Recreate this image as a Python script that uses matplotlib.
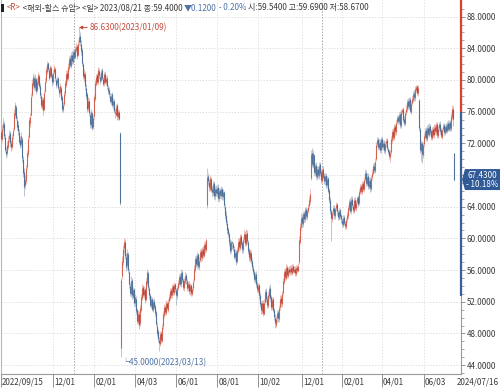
import numpy as np
import matplotlib
matplotlib.use('Agg')
import matplotlib.pyplot as plt
from matplotlib.patches import Polygon, Rectangle
from matplotlib.transforms import blended_transform_factory

plt.rcParams['font.family'] = ['Noto Sans CJK KR', 'DejaVu Sans']

# daily candles, 2022/09/15 .. 2024/07/16 (trading days)
opens = [
    73.4, 72.6, 73.9, 74.4, 72.8, 71.0, 70.8, 71.6, 72.6, 73.3,
    72.1, 71.6, 72.9, 73.8, 75.6, 76.6, 75.0, 74.3, 73.4, 72.4,
    71.9, 72.6, 70.0, 68.4, 66.8, 67.2, 69.0, 70.6, 72.8, 74.6,
    75.6, 78.1, 79.4, 80.2, 79.0, 80.1, 78.8, 79.6, 80.5, 79.2,
    78.0, 76.6, 77.6, 76.4, 78.6, 79.9, 81.0, 82.1, 81.2, 80.5,
    81.5, 80.6, 79.8, 81.0, 81.4, 80.0, 79.6, 80.2, 78.9, 78.5,
    79.0, 77.8, 76.2, 77.0, 78.3, 79.4, 80.9, 80.3, 81.5, 82.8,
    81.8, 83.2, 82.3, 83.6, 82.9, 83.8, 84.3, 83.2, 84.8, 85.6,
    84.6, 83.8, 82.0, 80.2, 80.8, 79.0, 78.2, 76.5, 77.4, 75.6,
    74.3, 75.8, 74.1, 75.4, 77.6, 79.5, 80.6, 79.7, 81.1, 80.4,
    80.0, 81.2, 80.1, 79.6, 80.8, 79.7, 80.3, 79.0, 78.8, 78.0,
    77.2, 78.2, 76.8, 77.4, 76.0, 75.6, 76.8, 75.3, 76.0, 73.3,
    46.2, 55.3, 57.0, 58.8, 59.6, 57.6, 56.6, 58.0, 55.8, 54.0,
    53.0, 54.8, 52.6, 53.6, 51.8, 52.4, 50.9, 49.5, 50.5, 49.3,
    51.0, 52.5, 53.9, 52.8, 53.6, 52.4, 54.4, 55.6, 53.8, 52.9,
    51.5, 52.4, 51.0, 52.1, 51.5, 50.7, 49.0, 48.3, 47.2, 46.7,
    48.0, 47.1, 48.9, 50.3, 51.4, 50.6, 51.9, 51.0, 52.1, 52.5,
    53.5, 52.8, 54.0, 53.1, 54.2, 53.5, 52.7, 53.8, 54.3, 55.2,
    54.2, 55.7, 54.7, 53.8, 54.5, 55.4, 54.6, 53.7, 54.3, 53.3,
    54.1, 53.0, 53.7, 54.8, 56.0, 57.5, 56.7, 58.0, 56.4, 57.3,
    58.4, 57.5, 58.6, 57.8, 59.3, 58.5, 64.2, 67.9, 67.1, 66.3,
    67.5, 66.2, 65.7, 67.0, 65.3, 66.3, 65.6, 66.5, 65.0, 66.1,
    65.4, 66.3, 65.2, 65.8, 64.0, 63.0, 62.0, 61.2, 60.5, 59.6,
    58.5, 59.54, 59.3, 58.7, 57.6, 58.3, 57.2, 58.4, 59.7, 58.8,
    60.3, 59.4, 58.5, 59.9, 60.6, 59.3, 60.7, 59.5, 58.5, 57.4,
    58.2, 57.2, 56.3, 55.7, 54.8, 55.5, 54.3, 53.4, 54.1, 52.9,
    51.8, 50.8, 51.9, 50.5, 52.0, 53.3, 52.3, 51.5, 52.7, 53.8,
    52.6, 51.3, 52.3, 50.9, 50.0, 49.1, 49.9, 50.7, 49.8, 51.3,
    52.5, 51.7, 53.1, 54.5, 55.9, 55.0, 56.4, 55.3, 56.1, 55.7,
    56.3, 55.6, 56.5, 55.8, 56.2, 55.5, 56.4, 55.9, 57.0, 59.6,
    61.5, 62.7, 61.8, 63.2, 62.4, 63.7, 62.7, 63.5, 64.1, 64.7,
    67.6, 70.8, 69.2, 70.5, 68.3, 69.3, 67.8, 68.8, 67.9, 69.4,
    68.4, 67.3, 68.7, 67.9, 67.2, 68.0, 66.7, 67.6, 66.1, 64.8,
    63.4, 62.5, 63.3, 63.9, 62.8, 63.8, 64.3, 63.3, 62.6, 63.6,
    62.9, 62.3, 61.7, 62.7, 61.9, 61.5, 62.4, 62.8, 63.7, 64.7,
    63.4, 65.0, 64.1, 63.5, 64.9, 63.8, 64.6, 65.2, 64.5, 65.9,
    66.6, 65.9, 67.0, 66.2, 67.5, 68.3, 66.9, 67.9, 66.5, 67.4,
    66.3, 67.7, 68.2, 69.2, 68.5, 70.0, 71.9, 72.5, 71.4, 72.2,
    71.1, 72.6, 71.5, 72.1, 71.0, 72.0, 72.4, 71.3, 71.0, 70.3,
    70.9, 72.4, 73.5, 72.7, 74.2, 73.4, 74.7, 75.3, 74.7, 75.7,
    74.2, 76.0, 76.3, 75.1, 74.5, 75.9, 76.3, 77.3, 76.6, 77.6,
    76.0, 77.1, 77.5, 78.3, 77.7, 78.8, 79.2, 78.3, 77.5, 73.8,
    71.0, 72.1, 70.5, 71.9, 72.8, 73.7, 72.6, 74.0, 73.1, 74.2,
    73.5, 72.7, 73.8, 73.0, 74.1, 73.4, 74.4, 72.9, 73.9, 74.5,
    73.7, 72.8, 73.8, 74.3, 73.3, 74.2, 73.5, 74.6, 73.7, 74.7,
    73.8, 75.3, 76.4, 70.8,
]
highs = [
    74.0, 74.3, 75.2, 74.8, 73.2, 71.6, 72.3, 72.9, 73.7, 73.6,
    72.4, 73.2, 74.0, 76.3, 77.2, 76.9, 75.5, 74.8, 73.8, 72.9,
    73.4, 72.8, 70.4, 68.9, 68.0, 69.3, 71.2, 73.0, 75.3, 75.8,
    78.3, 80.1, 80.9, 80.6, 80.7, 80.4, 80.2, 81.0, 80.8, 79.6,
    78.4, 77.9, 77.8, 78.8, 80.2, 81.6, 82.4, 82.3, 81.5, 81.9,
    81.8, 80.9, 81.2, 81.9, 81.6, 80.3, 80.5, 80.4, 79.3, 79.6,
    79.3, 78.1, 77.2, 78.6, 80.0, 81.2, 81.3, 82.1, 83.0, 83.1,
    83.5, 83.6, 83.9, 83.9, 84.3, 84.7, 84.6, 85.0, 86.63, 86.0,
    85.0, 84.1, 82.3, 81.4, 81.1, 79.5, 78.5, 77.8, 77.7, 75.9,
    76.4, 76.1, 75.6, 78.2, 80.0, 80.8, 80.9, 81.7, 81.5, 80.7,
    81.4, 81.5, 80.4, 81.0, 81.1, 80.5, 80.6, 79.4, 79.1, 78.3,
    78.4, 78.5, 77.7, 77.6, 76.4, 77.0, 77.1, 76.3, 76.2, 73.4,
    55.0, 57.8, 59.2, 60.0, 59.9, 58.1, 58.6, 58.3, 56.2, 54.4,
    55.2, 55.0, 53.9, 53.8, 53.0, 52.7, 51.2, 50.9, 50.8, 51.6,
    53.0, 54.3, 54.1, 54.0, 53.8, 55.0, 56.2, 55.9, 54.0, 53.1,
    52.7, 52.6, 52.4, 52.5, 51.7, 50.9, 49.4, 48.6, 47.6, 48.3,
    48.3, 49.2, 50.8, 51.7, 51.6, 52.2, 52.1, 52.4, 53.0, 53.8,
    53.8, 54.3, 54.2, 54.5, 54.4, 53.8, 54.0, 54.8, 55.5, 55.6,
    56.2, 56.0, 55.0, 55.0, 55.7, 55.6, 54.9, 54.6, 54.6, 54.4,
    54.3, 53.9, 54.9, 56.6, 57.8, 57.9, 58.3, 58.2, 57.6, 58.7,
    58.8, 58.9, 59.1, 59.6, 59.7, 60.1, 68.9, 68.3, 67.5, 68.0,
    67.8, 66.6, 67.3, 67.3, 66.6, 66.7, 66.8, 66.9, 66.4, 66.4,
    66.6, 66.5, 66.2, 66.0, 64.3, 63.4, 62.3, 61.5, 60.8, 59.9,
    59.8, 59.69, 59.5, 59.0, 58.6, 58.5, 58.9, 60.0, 60.0, 60.6,
    60.6, 59.7, 60.2, 61.0, 60.9, 61.2, 61.0, 59.8, 58.8, 58.7,
    58.5, 57.5, 56.6, 56.0, 55.8, 55.9, 54.6, 54.4, 54.4, 53.2,
    52.1, 52.2, 52.2, 52.3, 53.6, 53.7, 52.7, 53.2, 54.0, 54.2,
    52.9, 52.6, 52.6, 51.2, 50.4, 50.2, 51.0, 51.0, 51.6, 52.8,
    52.9, 53.4, 55.0, 56.2, 56.3, 56.8, 56.7, 56.4, 56.5, 56.6,
    56.6, 56.8, 56.8, 56.5, 56.5, 56.7, 56.7, 56.9, 60.3, 61.9,
    63.2, 63.1, 63.5, 63.4, 64.0, 64.0, 63.8, 64.4, 65.3, 66.2,
    71.2, 71.4, 71.1, 70.7, 69.5, 69.6, 69.1, 69.2, 69.6, 69.6,
    68.8, 69.0, 69.1, 68.2, 68.3, 68.2, 67.9, 67.8, 66.4, 65.2,
    63.7, 63.5, 64.2, 64.2, 64.0, 64.6, 64.5, 63.6, 63.9, 63.8,
    63.1, 62.6, 62.9, 62.9, 62.2, 62.6, 63.3, 64.2, 65.0, 65.1,
    65.3, 65.3, 64.4, 65.2, 65.2, 64.9, 65.4, 65.5, 66.2, 66.9,
    66.9, 67.3, 67.3, 67.8, 68.7, 68.6, 68.2, 68.2, 67.7, 67.7,
    68.0, 68.8, 69.5, 69.6, 70.1, 72.2, 72.8, 72.8, 72.5, 72.5,
    72.8, 72.9, 72.4, 72.4, 72.3, 72.7, 72.7, 71.6, 71.3, 71.2,
    72.9, 73.8, 73.9, 74.5, 74.5, 75.0, 75.6, 75.6, 76.0, 76.1,
    76.3, 76.5, 76.6, 75.4, 76.1, 76.8, 77.6, 77.7, 77.9, 77.9,
    77.4, 78.0, 78.6, 78.7, 79.2, 79.4, 79.4, 79.4, 77.6, 74.1,
    72.4, 72.3, 72.2, 73.3, 74.0, 74.1, 74.3, 74.4, 74.6, 74.5,
    73.8, 74.1, 74.2, 74.4, 74.5, 74.7, 74.7, 74.2, 74.7, 74.8,
    73.9, 74.0, 74.6, 74.6, 74.5, 74.6, 74.8, 74.9, 74.9, 74.9,
    75.8, 76.9, 76.7, 70.8,
]
lows = [
    72.1, 72.2, 73.5, 72.6, 70.9, 70.1, 70.4, 71.3, 72.2, 71.6,
    71.0, 71.3, 72.6, 73.6, 75.2, 74.9, 73.7, 73.1, 71.9, 71.4,
    71.6, 69.7, 67.8, 65.4, 66.3, 66.9, 68.7, 70.3, 72.5, 74.1,
    75.4, 77.8, 79.0, 78.7, 78.6, 78.2, 78.5, 79.4, 79.0, 77.7,
    76.5, 76.2, 75.6, 76.1, 78.3, 79.6, 80.8, 81.1, 80.0, 80.2,
    80.2, 79.3, 79.5, 80.7, 79.9, 79.0, 79.2, 78.7, 77.9, 78.1,
    77.3, 76.0, 75.9, 76.7, 78.0, 79.1, 79.8, 80.0, 81.2, 81.6,
    81.5, 82.0, 82.0, 82.5, 82.6, 83.5, 82.7, 83.0, 84.4, 84.3,
    83.2, 81.8, 80.1, 79.8, 78.8, 77.6, 76.0, 76.1, 75.4, 74.0,
    74.0, 73.7, 73.8, 75.1, 77.3, 79.2, 79.5, 79.4, 80.2, 79.5,
    79.7, 80.0, 79.2, 79.3, 79.5, 79.4, 78.9, 78.2, 77.8, 77.1,
    76.9, 76.6, 76.4, 75.8, 75.2, 75.4, 75.0, 75.0, 74.9, 64.2,
    45.0, 54.9, 56.6, 58.2, 57.4, 55.9, 56.2, 55.6, 53.8, 52.7,
    52.6, 52.4, 52.3, 51.5, 51.4, 50.4, 49.2, 49.2, 48.6, 49.0,
    50.7, 52.2, 52.6, 52.5, 51.9, 52.1, 54.1, 53.5, 52.4, 51.3,
    51.2, 50.8, 50.7, 51.1, 50.2, 48.9, 47.7, 46.9, 45.8, 46.4,
    46.8, 46.9, 48.6, 50.0, 50.3, 50.3, 50.9, 50.7, 51.8, 52.2,
    52.5, 52.5, 52.9, 52.8, 53.2, 51.6, 52.4, 53.5, 54.0, 54.0,
    53.9, 54.5, 53.5, 53.4, 54.2, 54.3, 53.4, 53.3, 53.0, 52.9,
    52.7, 52.7, 53.4, 54.5, 55.7, 56.4, 56.3, 56.1, 56.0, 57.0,
    57.2, 57.2, 57.5, 57.6, 58.2, 58.3, 63.9, 66.8, 66.0, 66.0,
    65.8, 65.3, 65.4, 65.0, 64.9, 65.3, 65.2, 64.7, 64.6, 65.1,
    65.0, 64.9, 64.8, 63.9, 62.5, 61.7, 60.6, 60.2, 59.1, 58.0,
    58.2, 58.67, 58.4, 57.4, 57.3, 56.7, 56.9, 58.1, 58.5, 58.5,
    59.0, 58.2, 58.2, 59.6, 59.0, 59.0, 59.3, 58.0, 57.2, 57.0,
    56.8, 56.0, 55.4, 54.5, 54.4, 53.9, 53.2, 53.1, 52.4, 51.3,
    50.5, 50.4, 50.2, 50.3, 51.7, 52.0, 51.2, 51.2, 52.4, 52.1,
    51.0, 51.0, 50.7, 49.7, 48.7, 48.8, 49.5, 49.5, 49.5, 51.0,
    51.4, 51.4, 52.8, 54.2, 54.8, 54.7, 55.0, 55.0, 55.5, 55.4,
    55.4, 55.4, 55.6, 55.6, 55.3, 55.3, 55.7, 55.7, 56.8, 59.3,
    61.1, 61.5, 61.5, 62.1, 62.1, 62.4, 62.3, 63.2, 63.8, 64.4,
    67.4, 69.0, 68.9, 68.0, 67.9, 67.5, 67.4, 67.6, 67.5, 67.9,
    67.0, 67.0, 67.5, 66.9, 66.8, 66.4, 66.4, 65.7, 64.5, 63.1,
    59.7, 62.1, 62.9, 62.5, 62.5, 63.4, 63.0, 62.3, 62.3, 62.4,
    62.0, 61.4, 61.4, 61.7, 61.2, 61.2, 62.1, 62.5, 63.4, 63.2,
    63.1, 63.9, 63.2, 63.2, 63.6, 63.5, 64.3, 64.0, 64.2, 65.6,
    65.6, 65.6, 66.0, 65.9, 67.2, 66.6, 66.6, 66.2, 66.2, 65.9,
    66.0, 67.4, 68.0, 68.3, 68.2, 69.8, 71.6, 71.1, 71.1, 70.8,
    70.8, 71.3, 71.2, 70.8, 70.7, 71.6, 71.1, 70.6, 70.0, 69.6,
    70.6, 72.1, 72.4, 72.4, 73.1, 73.1, 74.4, 74.4, 74.4, 74.0,
    73.9, 75.7, 74.7, 74.2, 74.3, 75.6, 76.0, 76.4, 76.3, 75.8,
    75.7, 76.8, 77.2, 77.4, 77.4, 78.5, 78.1, 78.0, 73.6, 70.8,
    69.8, 69.5, 70.2, 71.6, 72.5, 72.3, 72.3, 72.9, 72.8, 73.0,
    72.4, 72.4, 72.8, 72.7, 73.2, 73.1, 72.7, 72.7, 73.6, 73.2,
    72.7, 72.6, 73.5, 73.1, 73.1, 73.3, 73.3, 73.5, 73.5, 73.6,
    73.6, 75.0, 74.2, 67.43,
]
closes = [
    72.5, 73.8, 74.6, 72.9, 71.2, 70.6, 71.8, 72.4, 73.1, 72.0,
    71.5, 72.8, 73.5, 75.8, 76.9, 75.2, 74.1, 73.6, 72.2, 71.8,
    72.9, 70.1, 68.2, 66.5, 67.4, 68.9, 70.8, 72.6, 74.9, 75.3,
    77.8, 79.6, 80.4, 79.1, 80.2, 78.6, 79.8, 80.6, 79.3, 78.1,
    76.8, 77.5, 76.2, 78.4, 79.8, 81.2, 82.0, 81.4, 80.3, 81.6,
    80.5, 79.7, 80.9, 81.5, 80.2, 79.4, 80.1, 79.0, 78.3, 79.2,
    77.6, 76.4, 76.8, 78.2, 79.6, 80.8, 80.1, 81.7, 82.6, 81.9,
    83.1, 82.4, 83.5, 82.8, 83.9, 84.2, 83.0, 84.6, 85.4, 84.8,
    83.6, 82.1, 80.5, 80.9, 79.2, 78.0, 76.4, 77.3, 75.8, 74.5,
    76.0, 73.9, 75.2, 77.8, 79.6, 80.4, 79.8, 81.2, 80.6, 79.9,
    81.0, 80.3, 79.5, 80.7, 79.8, 80.1, 79.2, 78.6, 78.2, 77.4,
    78.0, 76.9, 77.3, 76.1, 75.8, 76.6, 75.4, 75.9, 75.1, 64.5,
    54.8, 57.2, 58.6, 59.5, 57.8, 56.4, 58.1, 56.0, 54.2, 53.1,
    54.6, 52.8, 53.5, 51.9, 52.6, 50.8, 49.6, 50.4, 49.1, 51.2,
    52.6, 53.8, 52.9, 53.5, 52.2, 54.6, 55.8, 53.9, 52.8, 51.6,
    52.3, 51.1, 52.0, 51.4, 50.6, 49.2, 48.1, 47.3, 46.8, 47.9,
    47.2, 48.8, 50.4, 51.3, 50.7, 51.8, 51.2, 52.0, 52.6, 53.4,
    52.9, 53.9, 53.2, 54.1, 53.6, 52.8, 53.7, 54.4, 55.1, 54.3,
    55.6, 54.8, 53.9, 54.6, 55.3, 54.7, 53.8, 54.2, 53.4, 54.0,
    53.1, 53.6, 54.5, 56.2, 57.4, 56.8, 57.9, 56.5, 57.2, 58.3,
    57.6, 58.5, 57.9, 59.2, 58.6, 59.8, 67.8, 67.2, 66.5, 67.6,
    66.1, 65.8, 66.9, 65.4, 66.2, 65.7, 66.4, 65.1, 66.0, 65.5,
    66.2, 65.3, 65.9, 64.2, 62.9, 62.1, 61.0, 60.6, 59.5, 58.4,
    59.52, 59.40, 58.8, 57.7, 58.2, 57.0, 58.5, 59.6, 58.9, 60.2,
    59.3, 58.6, 59.8, 60.5, 59.4, 60.6, 59.7, 58.4, 57.6, 58.3,
    57.1, 56.4, 55.8, 54.9, 55.4, 54.2, 53.6, 54.0, 52.8, 51.7,
    50.9, 51.8, 50.6, 51.9, 53.2, 52.4, 51.6, 52.8, 53.6, 52.5,
    51.4, 52.2, 51.0, 50.1, 49.3, 49.8, 50.6, 49.9, 51.2, 52.4,
    51.8, 53.0, 54.6, 55.8, 55.1, 56.3, 55.4, 56.0, 55.8, 56.2,
    55.7, 56.4, 55.9, 56.1, 55.6, 56.3, 56.0, 56.5, 59.8, 61.4,
    62.6, 61.9, 63.1, 62.5, 63.6, 62.8, 63.4, 64.0, 64.8, 65.6,
    70.6, 69.4, 70.8, 68.4, 69.1, 67.9, 68.7, 68.0, 69.2, 68.3,
    67.4, 68.6, 67.8, 67.3, 67.9, 66.8, 67.5, 66.0, 64.9, 63.5,
    62.6, 63.2, 63.8, 62.9, 63.7, 64.2, 63.4, 62.7, 63.5, 62.8,
    62.4, 61.8, 62.6, 62.0, 61.6, 62.3, 62.9, 63.8, 64.6, 63.5,
    64.9, 64.2, 63.6, 64.8, 63.9, 64.5, 65.1, 64.4, 65.8, 66.5,
    66.0, 66.9, 66.3, 67.4, 68.2, 67.0, 67.8, 66.6, 67.3, 66.4,
    67.6, 68.3, 69.1, 68.6, 69.7, 71.8, 72.4, 71.5, 72.1, 71.2,
    72.5, 71.6, 72.0, 71.1, 71.9, 72.3, 71.4, 70.9, 70.4, 70.8,
    72.5, 73.4, 72.8, 74.1, 73.5, 74.6, 75.2, 74.8, 75.6, 74.3,
    75.9, 76.2, 75.0, 74.6, 75.8, 76.4, 77.2, 76.7, 77.5, 76.1,
    77.0, 77.6, 78.2, 77.8, 78.9, 79.1, 78.4, 79.0, 74.0, 71.2,
    72.0, 70.6, 71.8, 72.9, 73.6, 72.7, 73.9, 73.2, 74.1, 73.4,
    72.8, 73.7, 73.1, 74.0, 73.5, 74.3, 73.0, 73.8, 74.4, 73.6,
    72.9, 73.7, 74.2, 73.4, 74.1, 73.6, 74.5, 73.8, 74.6, 73.9,
    75.4, 76.3, 75.07, 67.43,
]
assert len(opens) == len(highs) == len(lows) == len(closes)

tick_pos = [0, 53, 94, 135, 176, 217, 258, 302, 342, 382, 424]
tick_labels = ['2022/09/15', '12/01', '02/01', '04/03', '06/01', '08/01',
               '10/02', '12/01', '02/01', '04/01', '06/03']
last_date = '2024/07/16'
year_lines = [74, 322]
y_ticks = list(range(44, 89, 4))

peak_i, peak_v, peak_txt = 78, 86.63, '86.6300(2023/01/09)'
low_i, low_v, low_txt = 120, 45.0, '45.0000(2023/03/13)'
last_close, last_chg = 67.43, -10.18

UP_BODY, UP_WICK = '#d4604f', '#e9b5ad'
DN_BODY, DN_WICK = '#4f7099', '#b3bfce'
RED, BLUE = '#c24d3e', '#4f73a6'
TXT = '#3a3a3a'
FS = 5.8

W, H = 500, 389
fig = plt.figure(figsize=(W / 100, H / 100), dpi=100)
ax = fig.add_axes([0.5 / W, 15 / H, 460.5 / W, 374 / H])

o = np.array(opens); h = np.array(highs); l = np.array(lows); c = np.array(closes)
x = np.arange(len(c))
up = c >= o
ax.vlines(x[up], l[up], h[up], color=UP_WICK, lw=0.65, zorder=3)
ax.vlines(x[~up], l[~up], h[~up], color=DN_WICK, lw=0.65, zorder=3)
ax.vlines(x[up], o[up], c[up], color=UP_BODY, lw=0.8, zorder=4)
ax.vlines(x[~up], c[~up], o[~up], color=DN_BODY, lw=0.8, zorder=4)

ax.set_xlim(-0.5, 460.5)
ax.set_ylim(42.88, 90.1)

# grid
for yv in y_ticks:
    ax.axhline(yv, color='#d6d6d6', lw=0.6, ls=(0, (1.5, 2)), zorder=1)
for xv in tick_pos[1:]:
    ax.axvline(xv - 0.5, color='#dadada', lw=0.6, ls=(0, (1.5, 2)), zorder=1)
for xv in year_lines:
    ax.axvline(xv - 0.5, color='#a8a8a8', lw=0.7, ls=(0, (1.5, 1.5)), zorder=1)

# axes frame
ax.spines['top'].set_visible(False)
ax.spines['left'].set_color('#b0b8c0')
ax.spines['bottom'].set_color('#9a9a9a')
ax.spines['right'].set_color('#9a9a9a')
for sp in ax.spines.values():
    sp.set_linewidth(0.8)

# right price axis; the 68 label sits under the last-price box
ax.yaxis.tick_right()
ax.set_yticks(y_ticks)
ax.set_yticklabels(['' if abs(v - last_close) < 2 else '%.4f' % v for v in y_ticks], fontsize=FS, color=TXT)
ax.set_yticks(np.arange(43, 90, 1), minor=True)
ax.tick_params(axis='y', which='major', direction='out', length=3, width=0.6, color='#808080', pad=1)
ax.tick_params(axis='y', which='minor', direction='out', length=2, width=0.5, color='#808080')

ax.set_xticks([p - 0.5 for p in tick_pos])
ax.set_xticklabels([])
ax.tick_params(axis='x', direction='out', length=9, width=0.6, color='#808080')
trans = blended_transform_factory(ax.transData, ax.transAxes)
for p, lab in zip(tick_pos, tick_labels):
    ax.text(p + 0.5, -0.022, lab, transform=trans, ha='left', va='center', fontsize=FS, color=TXT, clip_on=False)
ax.text(456, -0.022, last_date, transform=trans, ha='left', va='center', fontsize=FS, color=TXT, clip_on=False)

# right axis colour bar
ax.plot([460.5, 460.5], [76.0, 90.1], color='#d9412f', lw=1.6, clip_on=False, zorder=6, solid_capstyle='butt')
ax.plot([460.5, 460.5], [52.7, 76.0], color='#3b5f99', lw=1.6, clip_on=False, zorder=6, solid_capstyle='butt')

# high / low annotations
ax.annotate(peak_txt, xy=(peak_i, peak_v), xytext=(11, 0), textcoords='offset pixels',
            ha='left', va='center', fontsize=FS, color=RED,
            arrowprops=dict(arrowstyle='-|>', color=RED, lw=0.7, mutation_scale=5, shrinkA=0, shrinkB=0))
ax.text(low_i, low_v - 0.1, '└' + low_txt, ha='left', va='top', fontsize=FS, color=BLUE)

# last price box
fig.canvas.draw()
px, py = ax.transData.transform((460.5, last_close))
py = H - py
bx0, bx1, by0, by1 = px + 4, W, py - 10.5, py + 10.5
pts = [(px + 1, py), (bx0, by0), (bx1, by0), (bx1, by1), (bx0, by1)]
fig.patches.append(Polygon([(a / W, 1 - b / H) for a, b in pts], closed=True,
                           transform=fig.transFigure, facecolor='#2f5a96', edgecolor='none', zorder=10))
fig.text((bx0 + bx1) / 2 / W, 1 - (py - 4.5) / H, '%.4f' % last_close, color='white', fontsize=FS,
         ha='center', va='center', zorder=11)
fig.text((bx0 + bx1) / 2 / W, 1 - (py + 5) / H, '- %.2f%%' % abs(last_chg), color='white', fontsize=FS,
         ha='center', va='center', zorder=11)

# header line
fig.patches.append(Rectangle((1 / W, 1 - 12 / H), 2.5 / W, 8 / H, transform=fig.transFigure,
                             facecolor='#202020', edgecolor='none'))
parts = [('<R>', RED), (' <해외-할스 슈암> <일> 2023/08/21 종:59.4000 ', TXT),
         ('▼0.1200', BLUE), (' - 0.20% ', BLUE), ('시:59.5400 고:59.6900 저:58.6700', TXT)]
r = fig.canvas.get_renderer()
xpos = 7 / W
for s, col in parts:
    t = fig.text(xpos, 1 - 7.5 / H, s, color=col, fontsize=FS, ha='left', va='center')
    bb = t.get_window_extent(renderer=r)
    xpos = bb.x1 / W

fig.savefig('out.png', dpi=100)
